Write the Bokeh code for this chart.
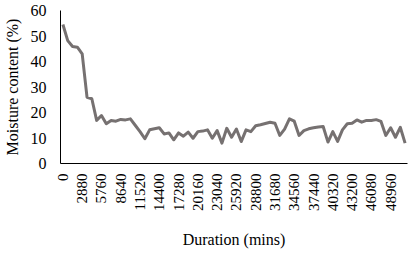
import math
from bokeh.plotting import figure
from bokeh.models import FixedTicker, Range1d
from bokeh.embed import file_html
from bokeh.resources import INLINE

# Duration categories (minutes), every 720 min
durations = [0, 720, 1440, 2160, 2880, 3600, 4320, 5040, 5760, 6480, 7200, 7920,
             8640, 9360, 10080, 10800, 11520, 12240, 12960, 13680, 14400, 15120,
             15840, 16560, 17280, 18000, 18720, 19440, 20160, 20880, 21600, 22320,
             23040, 23760, 24480, 25200, 25920, 26640, 27360, 28080, 28800, 29520,
             30240, 30960, 31680, 32400, 33120, 33840, 34560, 35280, 36000, 36720,
             37440, 38160, 38880, 39600, 40320, 41040, 41760, 42480, 43200, 43920,
             44640, 45360, 46080, 46800, 47520, 48240, 48960, 49680, 50400, 51120]

# Moisture content (%)
moisture = [54.5, 48.2, 45.9, 45.6, 43.0, 26.0, 25.4, 16.9, 18.8, 15.6, 16.9, 16.6,
            17.3, 17.1, 17.5, 15.0, 12.5, 9.7, 13.2, 13.6, 14.0, 11.6, 12.0, 9.3,
            12.0, 10.7, 12.3, 9.9, 12.5, 12.7, 13.2, 9.9, 12.9, 8.0, 13.8, 10.3,
            13.5, 8.6, 13.2, 12.5, 14.8, 15.2, 15.7, 16.2, 15.8, 11.0, 13.5, 17.5,
            16.6, 11.0, 12.9, 13.6, 14.0, 14.3, 14.5, 8.4, 12.5, 8.7, 13.2, 15.6,
            15.8, 17.1, 16.2, 16.9, 16.9, 17.2, 16.5, 11.0, 14.0, 10.3, 14.2, 8.0]

x_tick_values = [0, 2880, 5760, 8640, 11520, 14400, 17280, 20160, 23040, 25920,
                 28800, 31680, 34560, 37440, 40320, 43200, 46080, 48960]
x_tick_labels = ["0", "2880", "5760", "8640", "11520", "14400", "17280", "20160",
                 "23040", "25920", "28800", "31680", "34560", "37440", "40320",
                 "43200", "46080", "48960"]
y_tick_values = [0, 10, 20, 30, 40, 50, 60]

x_title = "Duration (mins)"
y_title = "Moisture content (%)"

FONT = "Liberation Serif"

p = figure(width=411, height=253, output_backend="svg", toolbar_location=None,
           x_range=Range1d(-360, 51480), y_range=Range1d(0, 60),
           min_border_left=56, min_border_right=4, min_border_top=10,
           min_border_bottom=90, background_fill_color="white",
           border_fill_color="white")
p.outline_line_color = None
p.xgrid.visible = False
p.ygrid.visible = False

p.line(durations, moisture, line_color="#767171", line_width=3, line_join="round")

for ax in (p.xaxis[0], p.yaxis[0]):
    ax.axis_line_color = "black"
    ax.axis_line_width = 1
    ax.major_tick_line_color = None
    ax.minor_tick_line_color = None
    ax.major_tick_in = 0
    ax.major_tick_out = 0
    ax.major_label_text_font = FONT
    ax.major_label_text_color = "black"
    ax.axis_label_text_font = FONT
    ax.axis_label_text_font_size = "16px"
    ax.axis_label_text_font_style = "normal"
    ax.axis_label_text_color = "black"

p.xaxis.ticker = FixedTicker(ticks=x_tick_values)
p.xaxis.major_label_overrides = {v: l for v, l in zip(x_tick_values, x_tick_labels)}
p.xaxis.major_label_orientation = math.pi / 2
p.xaxis.major_label_text_font_size = "15px"
p.xaxis.major_label_standoff = 10
p.xaxis.axis_label = x_title
p.xaxis.axis_label_standoff = 17

p.yaxis.ticker = FixedTicker(ticks=y_tick_values)
p.yaxis.major_label_text_font_size = "16px"
p.yaxis.major_label_standoff = 14
p.yaxis.axis_label = y_title
p.yaxis.axis_label_standoff = 7

open("out.html", "w").write(file_html(p, INLINE))
